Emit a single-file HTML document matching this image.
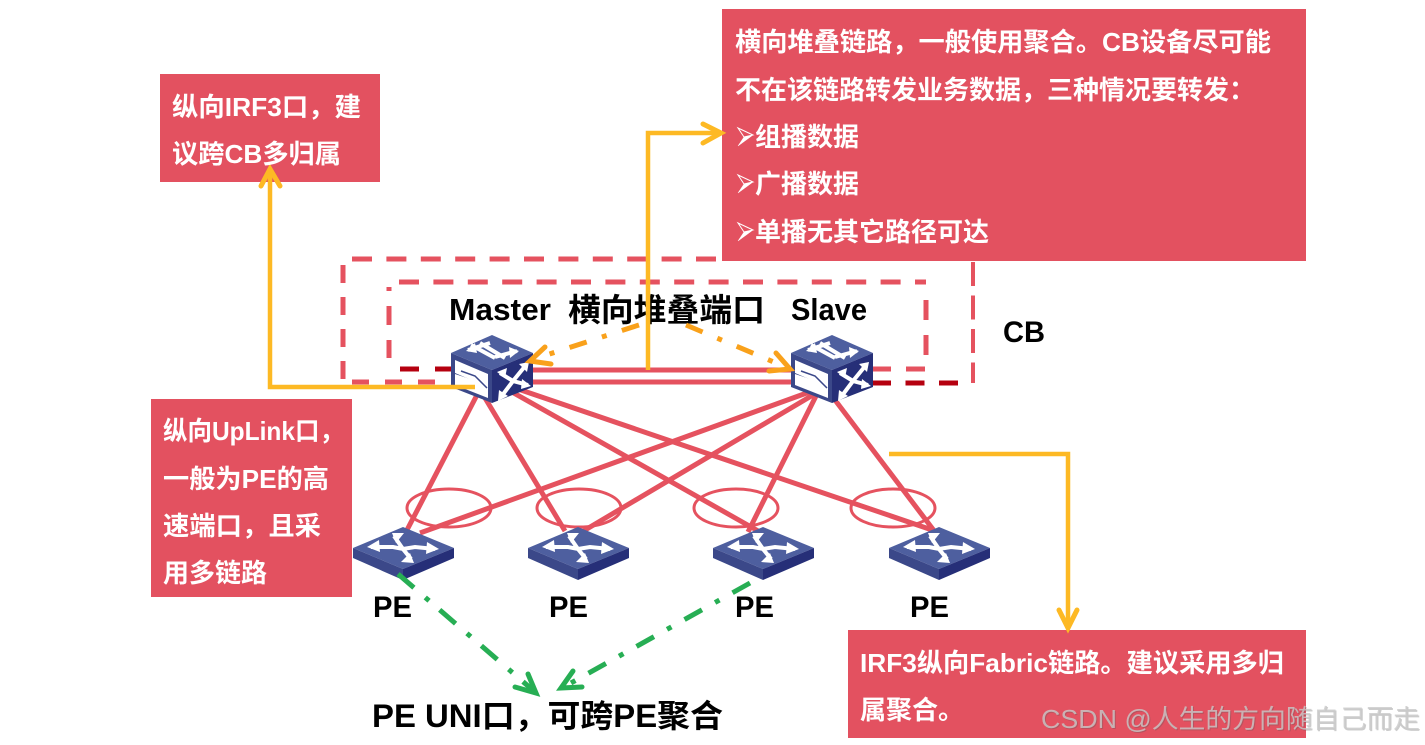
<!DOCTYPE html>
<html><head><meta charset="utf-8"><style>
html,body{margin:0;padding:0;background:#fff;width:1425px;height:745px;overflow:hidden}
svg{display:block}
text{font-family:"Liberation Sans","Noto Sans CJK SC",sans-serif;font-weight:700}
.w{fill:#fff;font-size:26px}
.k{fill:#000}
</style></head><body>
<svg width="1425" height="745" viewBox="0 0 1425 745" xmlns="http://www.w3.org/2000/svg">
<defs>
<g id="cube">
<polygon points="0,18 41,0 82,18 41,35" fill="#4e5f9f"/>
<polygon points="0,18 41,35 41,68 0,52" fill="#3b4889"/>
<polygon points="41,35 82,18 82,52 41,68" fill="#262f78"/>
<g fill="none" stroke="#fff" stroke-width="4">
<path d="M17,15 L39,8 M20,10 L44,23 M29,8 L54,23 M44,22 L66,16"/>
</g>
<g fill="#fff">
<polygon points="15,16 24,8 26,18"/>
<polygon points="68,16 58,12 59,23"/>
<polygon points="4,25 37,39 37,52 4,38"/>
<polygon points="4,39 37,50 37,63 4,50"/>
</g>
<path d="M10,36 L24,41 L36,53" stroke="#3b4889" stroke-width="1.5" fill="none"/>
<path d="M50,62 L62,46 L75,30 M49,38 L62,46 L77,50" stroke="#fff" stroke-width="4" fill="none"/>
<g fill="#fff">
<polygon points="78,27 68,29 76,37"/>
<polygon points="46,37 56,33 54,43"/>
<polygon points="47,66 48,55 57,61"/>
<polygon points="80,51 71,44 70,54"/>
</g>
</g>
<g id="pe">
<polygon points="0,21 50,0 101,21 50,42" fill="#4e5f9f"/>
<polygon points="0,21 50,42 50,53 0,31" fill="#3b4889"/>
<polygon points="50,42 101,21 101,31 50,53" fill="#262f78"/>
<path d="M18,20 L40,20 L50,22 L62,20 L82,22 M41,9 L50,22 L58,32" stroke="#fff" stroke-width="4" fill="none"/>
<g fill="#fff">
<polygon points="14,20 26,13 27,25"/>
<polygon points="86,22 74,15 73,27"/>
<polygon points="39,6 51,6 43,16"/>
<polygon points="61,36 48,35 57,26"/>
</g>
</g>
</defs>

<!-- outer dashed -->
<g fill="none" stroke="#e5525f" stroke-width="5">
<path d="M352,259 L722,259" stroke-dasharray="20 14.4"/>
<path d="M343,265 L343,383" stroke-dasharray="18 14"/>
<path d="M973,262 L973,383" stroke-width="4" stroke-dasharray="24 9.5"/>
<path d="M352,382 L450,382" stroke-dasharray="17 16"/>
<path d="M399,282 L926,282" stroke-dasharray="20 14.4"/>
<path d="M389,287 L389,291 M389,306 L389,325 M389,340 L389,358"/>
<path d="M926,300 L926,370" stroke-dasharray="20 15"/>
<path d="M872,369 L926,369" stroke-dasharray="19 15"/>
</g>
<path d="M400,369 L452,369" stroke="#b5000f" stroke-width="5" fill="none" stroke-dasharray="19 16"/>
<path d="M872,383 L960,383" stroke="#b5000f" stroke-width="5" fill="none" stroke-dasharray="19 14.5"/>

<!-- ellipses -->
<g fill="none" stroke="#e5525f" stroke-width="3">
<ellipse cx="449" cy="508" rx="42" ry="19"/>
<ellipse cx="579" cy="508" rx="42" ry="19"/>
<ellipse cx="736" cy="508" rx="42" ry="19"/>
<ellipse cx="893" cy="508" rx="42" ry="19"/>
</g>

<!-- links -->
<g stroke="#e5525f" stroke-width="5" fill="none">
<path d="M530,370 L795,370" stroke-width="5"/>
<path d="M530,382 L795,382" stroke-width="5"/>
<path d="M478,393 L407,530"/>
<path d="M482,393 L565,531"/>
<path d="M505,388 L760,532"/>
<path d="M515,388 L938,532"/>
<path d="M815,390 L420,533"/>
<path d="M818,392 L580,533"/>
<path d="M818,392 L748,532"/>
<path d="M835,400 L935,532"/>
</g>

<use href="#cube" x="451" y="335"/>
<use href="#cube" x="791" y="335"/>
<use href="#pe" x="353" y="527"/>
<use href="#pe" x="528" y="527"/>
<use href="#pe" x="713" y="527"/>
<use href="#pe" x="889" y="527"/>

<!-- labels -->
<text class="k" x="449" y="320" font-size="31" textLength="102" lengthAdjust="spacingAndGlyphs">Master</text>
<text class="k" x="568" y="321" font-size="32" textLength="197" lengthAdjust="spacingAndGlyphs">横向堆叠端口</text>
<text class="k" x="791" y="320" font-size="31" textLength="76" lengthAdjust="spacingAndGlyphs">Slave</text>
<text class="k" x="1003" y="342" font-size="30" textLength="42" lengthAdjust="spacingAndGlyphs">CB</text>
<text class="k" x="373" y="617" font-size="30" textLength="39" lengthAdjust="spacingAndGlyphs">PE</text>
<text class="k" x="549" y="617" font-size="30" textLength="39" lengthAdjust="spacingAndGlyphs">PE</text>
<text class="k" x="735" y="617" font-size="30" textLength="39" lengthAdjust="spacingAndGlyphs">PE</text>
<text class="k" x="910" y="617" font-size="30" textLength="39" lengthAdjust="spacingAndGlyphs">PE</text>
<text class="k" x="372" y="727" font-size="32" textLength="351" lengthAdjust="spacingAndGlyphs">PE UNI口&#xFF0C;可跨PE聚合</text>

<!-- orange -->
<g fill="none" stroke="#f9a11b" stroke-width="5">
<path d="M639,325 L531,360" stroke-dasharray="18 16 5 16"/>
<path d="M686,325 L788,368" stroke-dasharray="18 16 5 16"/>
<path d="M545,347 L530,361 L551,364" stroke-linecap="round"/>
<path d="M769,371 L790,369 L776,353" stroke-linecap="round"/>
</g>

<!-- green -->
<g fill="none" stroke="#27ae54" stroke-width="5">
<path d="M398,574 L535,692" stroke-dasharray="21 15 5 14"/>
<path d="M750,583 L562,688" stroke-dasharray="20 15 5 15"/>
<path d="M528,674 L536,693 L515,687" stroke-linecap="round"/>
<path d="M573,671 L561,688 L582,687" stroke-linecap="round"/>
</g>

<!-- boxes -->
<rect x="722" y="9" width="584" height="252" fill="#e35160"/>
<rect x="160" y="74" width="220" height="108" fill="#e35160"/>
<rect x="151" y="399" width="201" height="198" fill="#e35160"/>
<rect x="848" y="630" width="458" height="108" fill="#e35160"/>

<!-- yellow -->
<g fill="none" stroke="#fdb924" stroke-width="4.5">
<path d="M475,387 L270,387 L270,170"/>
<path d="M261,186 L270,169 L280,186" stroke-linecap="round" stroke-width="5"/>
<path d="M648,370 L648,133 L720,133"/>
<path d="M703,124 L721,133 L703,143" stroke-linecap="round" stroke-width="5"/>
<path d="M889,454 L1068,454 L1068,627"/>
<path d="M1059,610 L1068,628 L1077,610" stroke-linecap="round" stroke-width="5"/>
</g>

<text class="w" x="735" y="51" textLength="536" lengthAdjust="spacingAndGlyphs">横向堆叠链路&#xFF0C;一般使用聚合。CB设备尽可能</text>
<text class="w" x="735" y="99" textLength="520" lengthAdjust="spacingAndGlyphs">不在该链路转发业务数据&#xFF0C;三种情况要转发&#xFF1A;</text>
<g fill="#fff" stroke="#fff">
<path d="M738,128 L753,135 L744,137 Z" fill="none" stroke-width="1"/><path d="M738,146 L753,135 L744,137 Z" stroke-width=".5"/>
<path d="M738,175 L753,182 L744,184 Z" fill="none" stroke-width="1"/><path d="M738,193 L753,182 L744,184 Z" stroke-width=".5"/>
<path d="M738,223 L753,230 L744,232 Z" fill="none" stroke-width="1"/><path d="M738,241 L753,230 L744,232 Z" stroke-width=".5"/>
</g>
<text class="w" x="755" y="146">组播数据</text>
<text class="w" x="755" y="193">广播数据</text>
<text class="w" x="755" y="241">单播无其它路径可达</text>

<text class="w" x="172" y="116" textLength="189" lengthAdjust="spacingAndGlyphs">纵向IRF3口&#xFF0C;建</text>
<text class="w" x="172" y="163" textLength="169" lengthAdjust="spacingAndGlyphs">议跨CB多归属</text>

<text class="w" x="163" y="440" textLength="181" lengthAdjust="spacingAndGlyphs">纵向UpLink口&#xFF0C;</text>
<text class="w" x="163" y="488" textLength="166" lengthAdjust="spacingAndGlyphs">一般为PE的高</text>
<text class="w" x="163" y="535" textLength="158" lengthAdjust="spacingAndGlyphs">速端口&#xFF0C;且采</text>
<text class="w" x="163" y="582">用多链路</text>

<text class="w" x="860" y="672" textLength="424" lengthAdjust="spacingAndGlyphs">IRF3纵向Fabric链路。建议采用多归</text>
<text class="w" x="860" y="719">属聚合。</text>

<text x="1042" y="729" font-size="26" style="font-weight:400" fill="#555" fill-opacity=".3" textLength="379" lengthAdjust="spacingAndGlyphs">CSDN @人生的方向随自己而走</text>
<text x="1041" y="728" font-size="26" style="font-weight:400" fill="#c9c9c9" fill-opacity=".8" textLength="379" lengthAdjust="spacingAndGlyphs">CSDN @人生的方向随自己而走</text>
</svg>
</body></html>
